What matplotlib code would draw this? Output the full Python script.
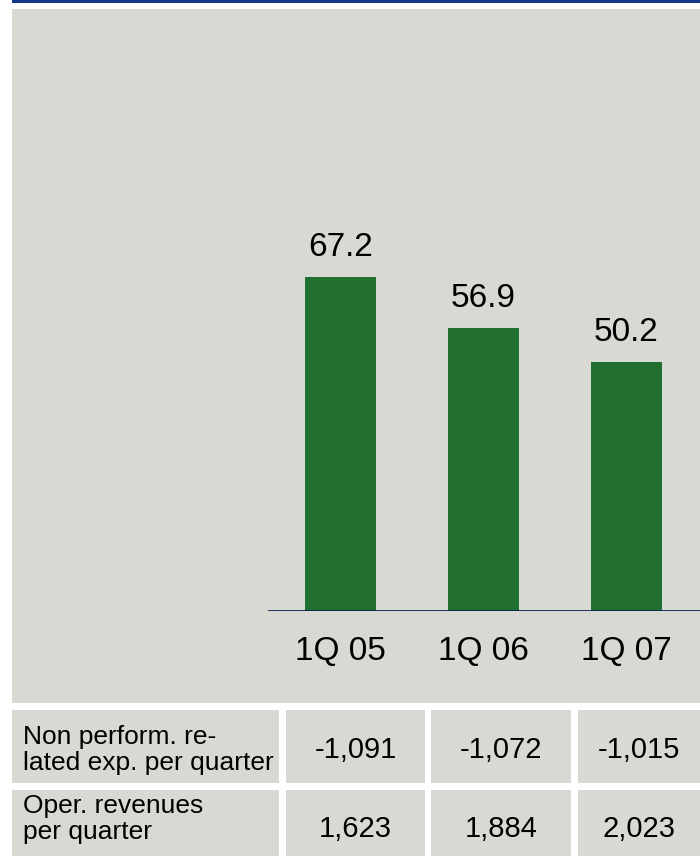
import matplotlib.pyplot as plt
import numpy as np
from matplotlib.patches import Rectangle

plt.rcParams['font.family'] = ['Liberation Sans', 'DejaVu Sans']

# Data
quarters = ["1Q 05", "1Q 06", "1Q 07"]
ratio_values = [67.2, 56.9, 50.2]
row_labels = ["Non perform. re-\nlated exp. per quarter", "Oper. revenues\nper quarter"]
non_perf_exp = ["-1,091", "-1,072", "-1,015"]
oper_revenues = ["1,623", "1,884", "2,023"]

W, H = 700, 856
BG_GRAY = "#d9d9d4"
BAR_GREEN = "#217030"
TOP_BLUE = "#16398c"
AXIS_NAVY = "#0a2352"

fig = plt.figure(figsize=(W / 100, H / 100), dpi=100, facecolor="white")


def px_rect(x0, y0, x1, y1, color):
    # rectangle given in pixel coordinates measured from top-left
    fig.patches.append(Rectangle((x0 / W, 1 - y1 / H), (x1 - x0) / W, (y1 - y0) / H,
                                 transform=fig.transFigure, facecolor=color,
                                 edgecolor="none", zorder=-5))


# Top blue rule and chart background
px_rect(12, 0, W, 3, TOP_BLUE)
px_rect(12, 9, W, 703, BG_GRAY)

# Bar chart axes
base_y = 611
ax_top = 12
ax = fig.add_axes([268 / W, 1 - base_y / H, (W - 268) / W, (base_y - ax_top) / H])
ax.set_zorder(2)
ax.set_facecolor("none")
x = np.arange(len(quarters))
bars = ax.bar(x, ratio_values, width=0.5, color=BAR_GREEN, zorder=2)
ax.set_xlim(-0.507, 2.514)
ax.set_ylim(0, (base_y - ax_top) / 4.97)
ax.axhline(0, color=AXIS_NAVY, linewidth=2.0, zorder=3)
for spine in ax.spines.values():
    spine.set_visible(False)
ax.set_yticks([])
ax.set_xticks(x, quarters)
ax.tick_params(axis="x", length=0, pad=18, labelsize=24)

for b, v in zip(bars, ratio_values):
    ax.annotate(f"{v:.1f}", (b.get_x() + b.get_width() / 2, v), xytext=(0, 10),
                textcoords="offset points", ha="center", va="bottom", fontsize=24)

# Table below the chart
col_edges = [(12, 279), (286, 425), (431, 571), (578, W)]
row_edges = [(710, 783), (790, H)]
label_baselines = [744, 813]   # baseline of the first label line, px from top
value_baselines = [758, 837]
rows = [non_perf_exp, oper_revenues]

for (y0, y1), label, lb, vb, vals in zip(row_edges, row_labels, label_baselines,
                                         value_baselines, rows):
    for (x0, x1) in col_edges:
        px_rect(x0, y0, x1, y1, BG_GRAY)
    for i, line in enumerate(label.split("\n")):
        fig.text(23 / W, 1 - (lb + 26 * i) / H, line, ha="left", va="baseline",
                 fontsize=19)
    for (x0, x1), v in zip(col_edges[1:], vals):
        fig.text((x0 + x1) / 2 / W, 1 - vb / H, v, ha="center", va="baseline",
                 fontsize=21)

fig.savefig("out.png", dpi=100, facecolor="white")
